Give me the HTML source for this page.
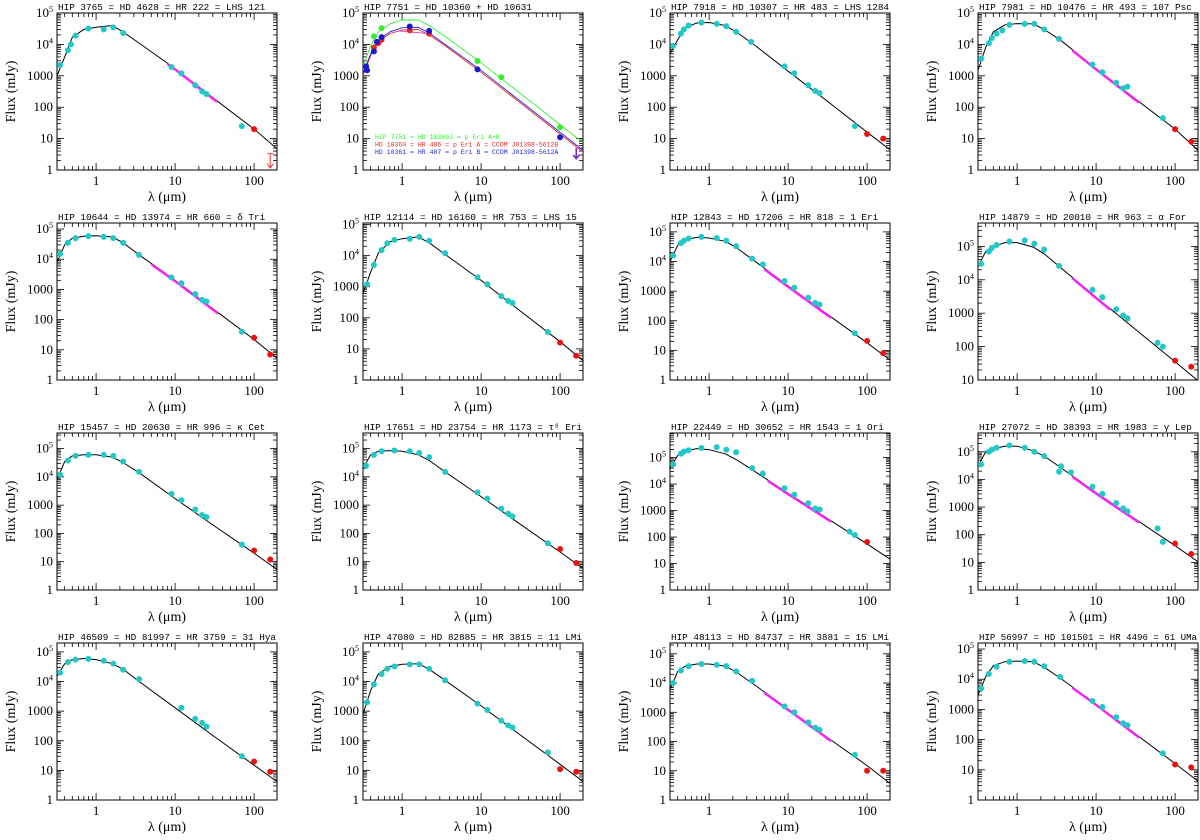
<!DOCTYPE html>
<html><head><meta charset="utf-8">
<style>
html,body{margin:0;padding:0;background:#fff;}
svg{display:block;font-family:"Liberation Serif",serif;}
.ttl{font-family:"Liberation Mono",monospace;font-size:9.5px;fill:#000;}
.tick{font-size:13px;fill:#000;}
.axt{font-size:14px;fill:#000;}
.leg{font-family:"Liberation Mono",monospace;font-size:6.5px;}
</style></head>
<body>
<svg id="fig" width="1200" height="840" viewBox="0 0 1200 840" xmlns="http://www.w3.org/2000/svg"></svg>
<script>
// ---------- data ----------
const titles = [
 "HIP 3765 = HD 4628 = HR 222 = LHS 121",
 "HIP 7751 = HD 10360 + HD 10631",
 "HIP 7918 = HD 10307 = HR 483 = LHS 1284",
 "HIP 7981 = HD 10476 = HR 493 = 107 Psc",
 "HIP 10644 = HD 13974 = HR 660 = δ Tri",
 "HIP 12114 = HD 16160 = HR 753 = LHS 15",
 "HIP 12843 = HD 17206 = HR 818 = 1 Eri",
 "HIP 14879 = HD 20010 = HR 963 = α For",
 "HIP 15457 = HD 20630 = HR 996 = κ Cet",
 "HIP 17651 = HD 23754 = HR 1173 = τ⁶ Eri",
 "HIP 22449 = HD 30652 = HR 1543 = 1 Ori",
 "HIP 27072 = HD 38393 = HR 1983 = γ Lep",
 "HIP 46509 = HD 81997 = HR 3759 = 31 Hya",
 "HIP 47080 = HD 82885 = HR 3815 = 11 LMi",
 "HIP 48113 = HD 84737 = HR 3881 = 15 LMi",
 "HIP 56997 = HD 101501 = HR 4496 = 61 UMa"
];
const yMinDec = [0,0,0,0, 0,0,0,1, 0,0,0,0, 0,0,0,0];
const yMaxDec = [5,5,5,5, 5.2,5.05,5.3,5.7, 5.55,5.55,5.93,5.68, 5.3,5.3,5.37,5.2];
const modelLam = [0.32,0.4,0.5,0.7,1,1.6,2.2,3.5,10,30,100,200];
const modelFlux = [
 [1000,4000,17000,30000,35000,40000,25000,11000,1700,200,20,4.5],
 [2000,9000,25000,45000,60000,60000,40000,18000,2600,300,28,7],
 [5000,14000,35000,48000,50000,40000,25000,11000,1400,170,16,4.2],
 [1500,8000,25000,42000,46000,45000,30000,14000,1700,200,20,4],
 [8000,30000,50000,58000,60000,55000,35000,14000,2000,230,22,5],
 [600,3000,12000,28000,35000,40000,26000,11000,1600,180,17,4],
 [10000,35000,55000,65000,62000,48000,30000,12000,1500,180,18,4.5],
 [25000,70000,100000,130000,130000,95000,60000,24000,3000,360,35,9],
 [8000,35000,55000,60000,60000,50000,32000,14000,1700,200,20,5],
 [20000,60000,80000,85000,80000,60000,38000,15000,2000,230,22,5.5],
 [40000,120000,180000,220000,200000,140000,85000,35000,4500,550,55,14],
 [30000,100000,130000,160000,160000,110000,70000,28000,3300,400,40,10],
 [15000,40000,55000,60000,55000,40000,26000,10000,1300,150,15,4],
 [800,5000,18000,32000,38000,40000,26000,11000,1500,170,16,4],
 [6000,25000,38000,45000,45000,38000,24000,10000,1300,150,15,3.5],
 [3000,12000,28000,38000,40000,38000,25000,11000,1500,170,16,4]
];
const modelRedP2 = [1000,4500,12500,22000,29000,30000,20000,9000,1300,150,14,3.5];
const modelBlueP2 = [1200,5000,14000,25000,34000,35000,23000,10000,1500,170,16,4];
const cyanLam = [
 [0.35,0.44,0.48,0.55,0.8,1.25,1.65,2.2,9,12,18,22,25,70],
 [],
 [0.35,0.44,0.48,0.55,0.8,1.25,1.65,2.2,3.4,9,12,18,22,25,70],
 [0.35,0.44,0.48,0.55,0.65,0.8,1.25,1.65,2.2,3.4,9,12,18,22,25,70],
 [0.35,0.44,0.55,0.8,1.25,1.65,2.2,3.5,9,12,18,22,25,70],
 [0.36,0.44,0.55,0.65,0.8,1.25,1.65,2.2,3.5,9,12,18,22,25,70],
 [0.35,0.44,0.48,0.55,0.8,1.25,1.65,2.2,3.5,4.8,9,12,18,22,25,70],
 [0.35,0.44,0.48,0.55,0.8,1.25,1.65,2.2,3.4,9,12,18,22,25,60,70],
 [0.35,0.44,0.55,0.8,1.25,1.65,2.2,3.5,9,12,18,22,25,70],
 [0.35,0.44,0.55,0.8,1.25,1.65,2.2,3.5,9,12,18,22,25,70],
 [0.35,0.44,0.48,0.55,0.8,1.25,1.65,2.2,3.5,4.8,9,12,18,22,25,60,70],
 [0.35,0.44,0.48,0.55,0.8,1.25,1.65,2.2,3.4,3.6,4.8,9,12,18,22,25,60,70],
 [0.35,0.44,0.55,0.8,1.25,1.65,2.2,3.5,12,18,22,25,70],
 [0.36,0.44,0.55,0.65,0.8,1.25,1.65,2.2,3.5,9,12,18,22,25,70],
 [0.35,0.44,0.55,0.8,1.25,1.65,2.2,3.5,9,12,18,22,25,70],
 [0.35,0.44,0.55,0.8,1.25,1.65,2.2,3.5,9,12,18,22,25,70]
];
const cyanFlux = [
 [2200,6500,10000,19000,32000,30000,35000,23000,1900,1200,500,320,260,25],
 [],
 [9000,22000,30000,40000,50000,45000,38000,25000,12000,2000,1200,500,330,280,25],
 [3500,11000,16000,22000,28000,42000,45000,45000,30000,15000,2300,1300,600,400,450,45],
 [15000,35000,50000,58000,55000,50000,35000,14000,2500,1600,700,450,400,40],
 [1200,5000,15000,25000,32000,35000,40000,30000,12000,2000,1200,500,350,300,35],
 [16000,42000,50000,60000,68000,62000,50000,33000,12500,8000,2200,1300,600,400,350,38],
 [30000,70000,90000,110000,140000,150000,120000,80000,26000,5000,3000,1300,850,700,130,100],
 [12000,38000,55000,60000,60000,55000,35000,15000,2500,1500,700,450,380,40],
 [25000,60000,80000,85000,80000,70000,50000,15000,2800,1700,750,500,400,45],
 [55000,140000,170000,190000,230000,250000,200000,160000,40000,25000,7000,4000,1900,1200,1100,160,120],
 [35000,100000,120000,140000,170000,140000,100000,70000,19000,30000,18000,5500,3000,1400,900,700,170,55],
 [20000,45000,55000,58000,50000,40000,25000,12000,1300,550,400,300,30],
 [2000,8000,18000,27000,32000,38000,38000,27000,11000,1800,1100,480,330,280,40],
 [10000,27000,38000,45000,42000,38000,25000,12000,1600,1000,450,300,250,35],
 [5000,15000,26000,38000,40000,38000,27000,12000,1900,1200,550,350,300,35]
];
const redLam = [[100],[100],[100,160],[100,160],[100,160],[100,160],[100,160],[100,160],[100,160],[100,160],[100],[100,160],[100,160],[100,160],[100,160],[100,160]];
const redFlux = [[20],[12],[14,10],[20,8],[25,7],[16,6],[21,8],[38,25],[25,12],[28,9],[65],[48,20],[20,9],[11,9],[10,10],[15,12]];
const magStart = [8,0,0,5,5,0,5,5,0,0,5.5,5,0,0,5,5];
const magEnd =   [34,0,0,35,35,0,35,15,0,0,35,35,0,0,35,35];
const p2GreenLam = [0.44,0.55,9,18,100];
const p2GreenFlux = [18000,33000,3000,900,23];
const p2BlueLam = [0.35,0.36,0.44,0.48,0.55,1.25,2.2,9,100];
const p2BlueFlux = [2000,1500,6000,12000,17000,37000,27000,1600,11];
const p2RedLam = [0.44,0.5,0.55,1.25,2.2];
const p2RedFlux = [8000,11000,14000,28000,22000];

// ---------- drawing ----------
const NS="http://www.w3.org/2000/svg";
const svg=document.getElementById('fig');
const colX=[57,363,670,978], rowY=[13,223,433,643], W=220, H=157;
const LX0=Math.log10(0.32), LX1=Math.log10(195);
function mk(tag,attrs,parent){const e=document.createElementNS(NS,tag);for(const k in attrs)e.setAttribute(k,attrs[k]);(parent||svg).appendChild(e);return e;}

for(let p=0;p<16;p++){
  const c=p%4, r=Math.floor(p/4);
  const L=colX[c], T=rowY[r];
  const y0=yMinDec[p], y1=yMaxDec[p];
  const X=l=>L+(Math.log10(l)-LX0)/(LX1-LX0)*W;
  const Y=f=>T+H-(Math.log10(f)-y0)/(y1-y0)*H;
  const g=mk('g',{});
  
  
  const clipId='clip'+p;
  const cp=mk('clipPath',{id:clipId},g); mk('rect',{x:L,y:T,width:W,height:H},cp);
  const t=mk('text',{x:L+1,y:T-3,'class':'ttl'},g);
  t.textContent=titles[p];
  t.setAttribute('textLength',Math.min(218,titles[p].length*5.6));
  t.setAttribute('lengthAdjust','spacingAndGlyphs');
  
  
  for(let d=-1;d<=2;d++){for(let m=1;m<10;m++){const v=m*Math.pow(10,d);if(v<0.32||v>195)continue;
    const x=X(v), len=(m===1)?7:4;
    mk('line',{x1:x,y1:T+H,x2:x,y2:T+H-len,stroke:'#000','stroke-width':0.8},g);
    mk('line',{x1:x,y1:T,x2:x,y2:T+len,stroke:'#000','stroke-width':0.8},g);
    if(m===1&&d>=0){const tl=mk('text',{x:x,y:T+H+15,'text-anchor':'middle','class':'tick'},g);tl.textContent=String(v);
      
      }
  }}
  for(let d=Math.floor(y0);d<=Math.ceil(y1);d++){for(let m=1;m<10;m++){const lv=d+Math.log10(m);if(lv<y0-1e-6||lv>y1+1e-6)continue;
    const y=Y(Math.pow(10,lv)), len=(m===1)?7:4;
    mk('line',{x1:L,y1:y,x2:L+len,y2:y,stroke:'#000','stroke-width':0.8},g);
    mk('line',{x1:L+W,y1:y,x2:L+W-len,y2:y,stroke:'#000','stroke-width':0.8},g);
    if(m===1){const tl=mk('text',{x:L-4,y:y+4,'text-anchor':'end','class':'tick'},g);
      
      
      if(d<=3) tl.textContent=String(Math.pow(10,d));
      else {tl.textContent='10';const s=mk('tspan',{dy:-5,'font-size':'8px'},tl);s.textContent=String(d);}
    }
  }}
  const fr=mk('rect',{x:L,y:T,width:W,height:H,fill:'none',stroke:'#000','stroke-width':1},g);
  
  
  const yt=mk('text',{x:0,y:0,'text-anchor':'middle','class':'axt',transform:`translate(${L-42},${T+H/2}) rotate(-90)`},g);
  yt.textContent='Flux (mJy)';
  
  
  const xt=mk('text',{x:L+W/2,y:T+H+31,'text-anchor':'middle','class':'axt'},g);
  xt.textContent='λ (μm)';
  
  
  const pg=mk('g',{'clip-path':`url(#${clipId})`},g);
  const line=(fl,col,w)=>{let d='';modelLam.forEach((l,i)=>{d+=(i?'L':'M')+X(l).toFixed(1)+','+Y(fl[i]).toFixed(1);});
    const e=mk('path',{d:d,fill:'none',stroke:col,'stroke-width':w},pg);return e;};
  const interp=(fl,l)=>{for(let i=0;i<modelLam.length-1;i++){if(l>=modelLam[i]&&l<=modelLam[i+1]){const a=Math.log10(modelLam[i]),b=Math.log10(modelLam[i+1]);const t=(Math.log10(l)-a)/(b-a);return Math.pow(10,Math.log10(fl[i])+t*(Math.log10(fl[i+1])-Math.log10(fl[i])));}}return fl[fl.length-1];};
  const dot=(l,f,col,nm)=>{const e=mk('circle',{cx:X(l),cy:Y(f),r:3,fill:col},pg);
    
    };
  if(p===1){
    const a=line(modelFlux[p],'#33ee33',0.9);
    const b=line(modelRedP2,'#ee2222',0.9);
    const cc=line(modelBlueP2,'#2222dd',0.9);
    mk('line',{x1:X(0.9),y1:Y(interp(modelRedP2,0.9)),x2:X(2),y2:Y(interp(modelRedP2,2)),stroke:'#cc33cc','stroke-width':0.8},pg);
    p2GreenLam.forEach((l,i)=>dot(l,p2GreenFlux[i],'#33ee33','green-point'));
    p2RedLam.forEach((l,i)=>dot(l,p2RedFlux[i],'#ee2222','red-point'));
    p2BlueLam.forEach((l,i)=>dot(l,p2BlueFlux[i],'#1a1acc','blue-point'));
    mk('path',{d:`M${X(160)},${Y(5)}L${X(160)},${Y(2.3)}M${X(160)-3},${Y(3)}L${X(160)},${Y(2.3)}L${X(160)+3},${Y(3)}`,stroke:'#7722cc','stroke-width':1.5,fill:'none'},pg);
    const legTxt=['HIP 7751 = HD 10360J = p Eri A+B','HD 10360 = HR 486 = p Eri A = CCDM J01398-5612B','HD 10361 = HR 487 = p Eri B = CCDM J01398-5612A'];
    const legCol=['#33ee33','#ee2222','#2222dd'];
    legTxt.forEach((s,i)=>{const e=mk('text',{x:L+12,y:T+126+i*7.5,'class':'leg',fill:legCol[i]},g);e.textContent=s;
      
      });
  } else {
    const ml=line(modelFlux[p],'#000',1);
    
    
    if(magEnd[p]>0){let d='';const n=20;for(let k=0;k<=n;k++){const l=Math.pow(10,Math.log10(magStart[p])+k/n*(Math.log10(magEnd[p])-Math.log10(magStart[p])));d+=(k?'L':'M')+X(l).toFixed(1)+','+(Y(interp(modelFlux[p],l))+1).toFixed(1);}
      const mg=mk('path',{d:d,fill:'none',stroke:'#ff22ff','stroke-width':2.2},pg);
      
      }
    cyanLam[p].forEach((l,i)=>{const f=cyanFlux[p][i];
      mk('line',{x1:X(l),y1:Y(f*1.25),x2:X(l),y2:Y(f/1.25),stroke:'#33cccc','stroke-width':0.8},pg);
      dot(l,f,'#22c8c8','photometry-point');});
    redLam[p].forEach((l,i)=>dot(l,redFlux[p][i],'#ee1111','far-ir-point'));
    if(p===0){const x=X(160);mk('path',{d:`M${x-3},${Y(3.3)}L${x+3},${Y(3.3)}M${x},${Y(3.3)}L${x},${Y(1.15)}M${x-3},${Y(1.6)}L${x},${Y(1.15)}L${x+3},${Y(1.6)}`,stroke:'#ee2222','stroke-width':0.9,fill:'none'},pg);}
  }
}
</script>
</body></html>
